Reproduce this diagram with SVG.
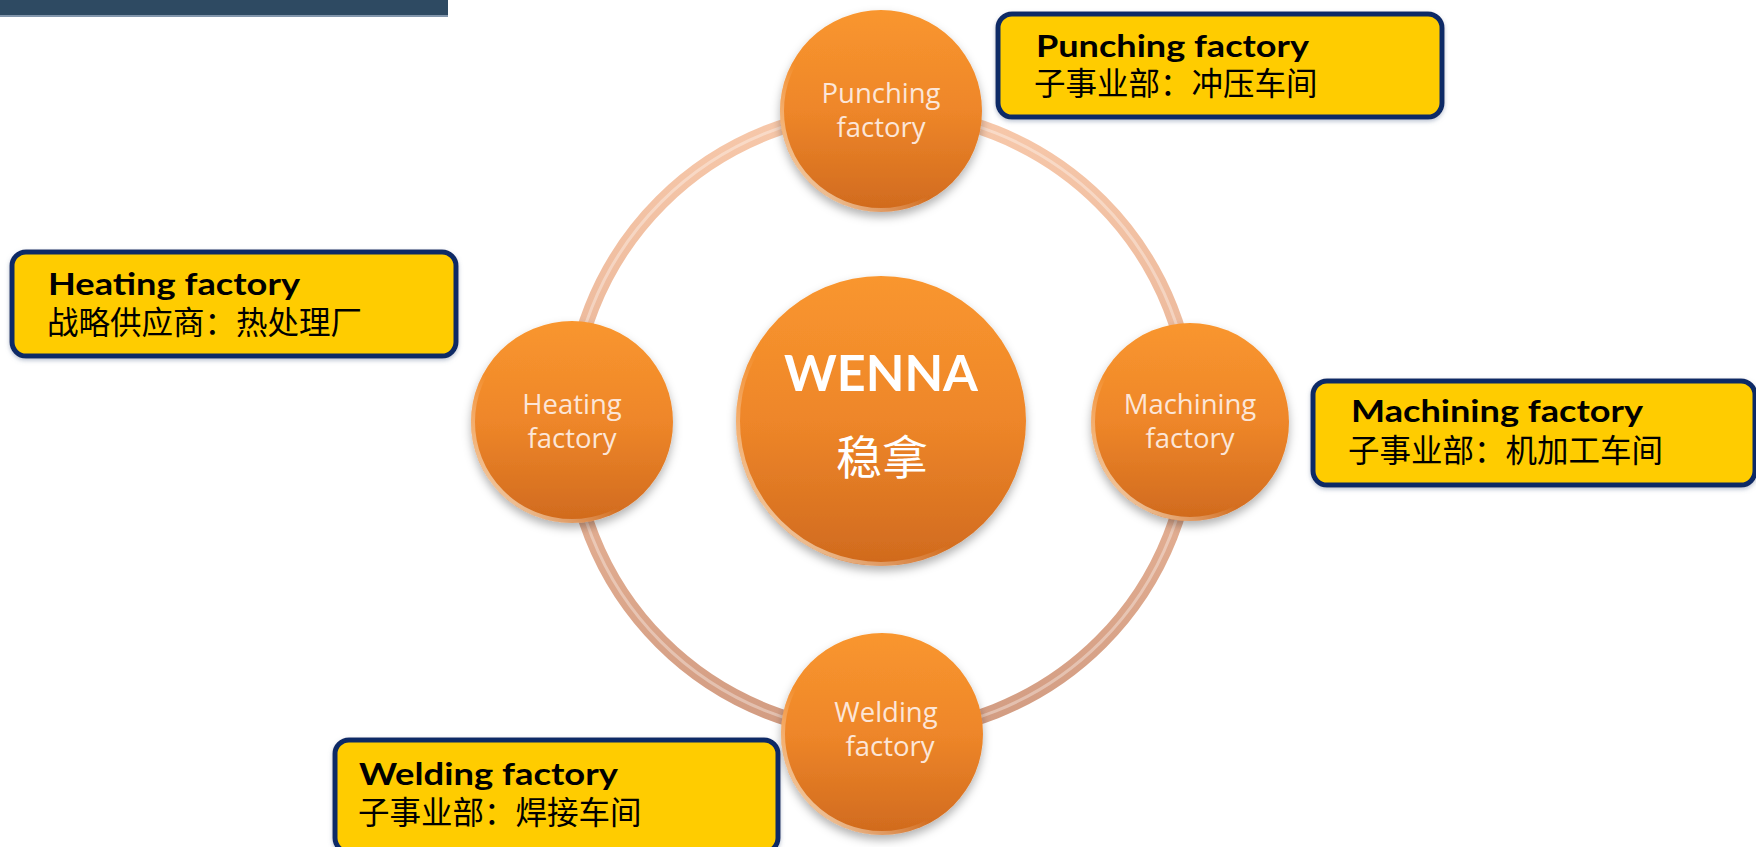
<svg xmlns="http://www.w3.org/2000/svg" width="1756" height="847" viewBox="0 0 1756 847">
<defs>
<linearGradient id="orb" x1="0" y1="0" x2="0" y2="1">
<stop offset="0" stop-color="#F9962F"/>
<stop offset="0.5" stop-color="#EE8629"/>
<stop offset="1" stop-color="#D06A1E"/>
</linearGradient>
<linearGradient id="rimL" x1="1" y1="0" x2="0" y2="1">
<stop offset="0" stop-color="#FFFFFF" stop-opacity="0"/>
<stop offset="0.6" stop-color="#FFFFFF" stop-opacity="0"/>
<stop offset="1" stop-color="#FFF3D6" stop-opacity="0.9"/>
</linearGradient>
<linearGradient id="ringG" x1="0" y1="0" x2="0" y2="1">
<stop offset="0" stop-color="#F7C8AA"/>
<stop offset="0.5" stop-color="#E9B598"/>
<stop offset="1" stop-color="#D29C82"/>
</linearGradient>
<filter id="sh" x="-20%" y="-20%" width="140%" height="150%">
<feDropShadow dx="0" dy="5" stdDeviation="5" flood-color="#000" flood-opacity="0.3"/>
</filter>
<filter id="bsh" x="-5%" y="-10%" width="110%" height="130%">
<feDropShadow dx="0" dy="2" stdDeviation="2" flood-color="#7A8AA8" flood-opacity="0.5"/>
</filter>
</defs>
<style>
.orb{fill:url(#orb);filter:url(#sh)}
.rim{fill:none;stroke:url(#rimL);stroke-width:4}
.lbl{font-family:"Open Sans","Liberation Sans",sans-serif;font-size:27.5px;fill:#FCE6D8;text-anchor:middle}
.box{fill:#FFCC00;stroke:#0F2A66;stroke-width:5;filter:url(#bsh)}
.bt{font-family:"Lato","Open Sans","Liberation Sans",sans-serif;font-weight:bold;font-size:30px;fill:#000}
.bc{font-family:"Noto Sans CJK SC",sans-serif;font-size:31.5px;fill:#000}
</style>
<rect x="0" y="0" width="448" height="16" fill="#2E4A62"/>
<rect x="0" y="15" width="448" height="2" fill="#8296AC"/>
<g id="connectors">
<circle cx="881" cy="422" r="311" fill="none" stroke="url(#ringG)" stroke-width="15"/>
<circle cx="881" cy="422" r="311" fill="none" stroke="#FFFFFF" stroke-opacity="0.35" stroke-width="3"/>
</g>
<g id="node-center">
<circle class="orb" cx="881" cy="421" r="145"/>
<circle class="rim" cx="881" cy="421" r="143"/>
<text x="881" y="391" font-family="Lato,'Open Sans','Liberation Sans',sans-serif" font-weight="bold" font-size="50" fill="#FFFFFF" text-anchor="middle" textLength="194" lengthAdjust="spacingAndGlyphs">WENNA</text>
<text x="882" y="474" font-family="'Noto Sans CJK SC',sans-serif" font-size="46" fill="#FFFFFF" text-anchor="middle">稳拿</text>
</g>
<g id="node-punching">
<circle class="orb" cx="881" cy="111" r="101"/>
<circle class="rim" cx="881" cy="111" r="99"/>
<text class="lbl" x="881" y="103">Punching</text>
<text class="lbl" x="881" y="137">factory</text>
</g>
<g id="node-heating">
<circle class="orb" cx="572" cy="422" r="101"/>
<circle class="rim" cx="572" cy="422" r="99"/>
<text class="lbl" x="572" y="414">Heating</text>
<text class="lbl" x="572" y="448">factory</text>
</g>
<g id="node-machining">
<circle class="orb" cx="1190" cy="422" r="99"/>
<circle class="rim" cx="1190" cy="422" r="97"/>
<text class="lbl" x="1190" y="414">Machining</text>
<text class="lbl" x="1190" y="448">factory</text>
</g>
<g id="node-welding">
<circle class="orb" cx="882" cy="734" r="101"/>
<circle class="rim" cx="882" cy="734" r="99"/>
<text class="lbl" x="886" y="722">Welding</text>
<text class="lbl" x="890" y="756">factory</text>
</g>
<g id="box-punching">
<rect class="box" x="998" y="14" width="444" height="103" rx="14"/>
<text class="bt" x="1036" y="57" textLength="273" lengthAdjust="spacingAndGlyphs">Punching factory</text>
<text class="bc" x="1034" y="95">子事业部：冲压车间</text>
</g>
<g id="box-heating">
<rect class="box" x="12" y="252" width="444" height="104" rx="14"/>
<text class="bt" x="48" y="295" textLength="252" lengthAdjust="spacingAndGlyphs">Heating factory</text>
<text class="bc" x="47" y="334">战略供应商：热处理厂</text>
</g>
<g id="box-machining">
<rect class="box" x="1313" y="381" width="442" height="104" rx="14"/>
<text class="bt" x="1351" y="422" textLength="292" lengthAdjust="spacingAndGlyphs">Machining factory</text>
<text class="bc" x="1348" y="462">子事业部：机加工车间</text>
</g>
<g id="box-welding">
<rect class="box" x="335" y="740" width="443" height="112" rx="14"/>
<text class="bt" x="359" y="785" textLength="259" lengthAdjust="spacingAndGlyphs">Welding factory</text>
<text class="bc" x="358" y="824">子事业部：焊接车间</text>
</g>
</svg>
